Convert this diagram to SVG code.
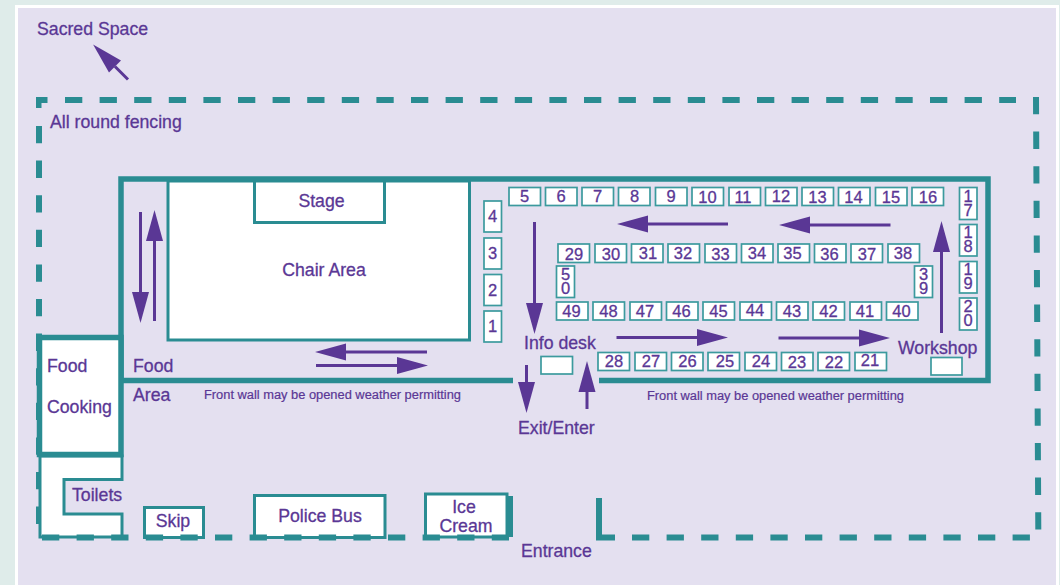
<svg xmlns="http://www.w3.org/2000/svg" width="1060" height="585" viewBox="0 0 1060 585">
<style>
text{font-family:"Liberation Sans",Arial,sans-serif;font-size:17.7px;fill:#5a3795;stroke:#5a3795;stroke-width:.3}
.m{text-anchor:middle}
.n{font-size:16.500px;text-anchor:middle}
.v{font-size:16.500px;writing-mode:vertical-rl;text-orientation:upright;letter-spacing:-4px}
.s{font-size:12.850px;stroke-width:.2}
.st{fill:#fff;stroke:#3c9a9e;stroke-width:1.7}
.b{fill:#fff;stroke:#2a8c92;stroke-width:3}
.w{fill:none;stroke:#2a8c92;stroke-width:5.5}
.d{fill:none;stroke:#2a8c92;stroke-width:6;stroke-dasharray:17.3 17.3}
.a{fill:none;stroke:#5a3795;stroke-width:3;marker-end:url(#h)}
</style>
<defs>
<marker id="h" markerUnits="userSpaceOnUse" markerWidth="32" markerHeight="18" refX="0" refY="8.5" orient="auto" viewBox="0 0 32 18" overflow="visible"><path d="M0 0L31 8.5L0 17Z" fill="#5a3795"/></marker>
</defs>
<rect width="1060" height="585" fill="#dfecea"/>
<rect x="15" y="5" width="1044" height="580" fill="#fff"/>
<rect x="18" y="8" width="1038" height="577" fill="#e4e0f0"/>

<g id="fence">
<path class="d" d="M65 100H1016"/>
<path class="d" d="M1036 97L1038.300 530"/>
<path class="d" d="M39 126V524"/>
<path fill="#2a8c92" d="M36 97H47.500V103H41.500V108H36Z"/>
</g>

<g id="hall">
<path class="w" d="M513 380.500H121V179H988V380.500H599"/>
</g>

<g id="chair-area"><rect class="b" x="168" y="181" width="301.500" height="159"/>
<text class="m" x="324" y="275.500">Chair Area</text></g>
<g id="stage"><rect class="b" x="254.500" y="181" width="130" height="41.500"/>
<text class="m" x="321.500" y="206.500">Stage</text></g>

<g id="toilets">
<path fill="#fff" stroke="#2a8c92" stroke-width="3" d="M40 456H122V479.500H64V514H122V537H40Z"/>
<text x="72" y="501">Toilets</text></g>
<g id="food-cooking">
<rect x="39.500" y="337.500" width="81.500" height="117" fill="#fff" stroke="#2a8c92" stroke-width="5.500"/>
<text x="47" y="372">Food</text><text x="47" y="413">Cooking</text></g>
<g id="skip"><rect class="b" x="144.500" y="507.500" width="59" height="30"/>
<text class="m" x="173" y="526.500">Skip</text></g>
<g id="police-bus"><rect class="b" x="254.500" y="495.500" width="130.500" height="42"/>
<text class="m" x="320" y="521.500">Police Bus</text></g>
<g id="ice-cream"><rect class="b" x="425.500" y="494" width="81.500" height="43"/>
<rect x="507" y="496" width="6" height="41" fill="#2a8c92"/>
<text class="m" x="464" y="513">Ice</text><text class="m" x="466" y="532">Cream</text></g>

<g id="fence-bottom">
<path class="d" d="M42 537.500H509"/>
<path class="d" d="M632 537.500H1030"/>
<path fill="none" stroke="#2a8c92" stroke-width="6" d="M599 498V537.500H615"/>
</g>

<g id="labels">
<text x="37" y="35">Sacred Space</text>
<text x="50" y="128">All round fencing</text>
<text x="133" y="372">Food</text>
<text x="133" y="401">Area</text>
<text class="s" x="204" y="399">Front wall may be opened weather permitting</text>
<text class="s" x="647" y="400">Front wall may be opened weather permitting</text>
<text x="524" y="349">Info desk</text>
<text x="898" y="354">Workshop</text>
<text x="518" y="434">Exit/Enter</text>
<text x="521" y="556.500">Entrance</text>
</g>

<g id="desks">
<rect class="st" x="541" y="356.500" width="31.500" height="17.500"/>
<rect class="st" x="931" y="357.500" width="31" height="17.500"/>
</g>

<g id="stalls">
<g id="s1"><rect class="st" x="484" y="311" width="17.500" height="31"/><text class="n" x="492.500" y="332">1</text></g>
<g id="s2"><rect class="st" x="484" y="274.500" width="17.500" height="31"/><text class="n" x="492.500" y="295.500">2</text></g>
<g id="s3"><rect class="st" x="484" y="238" width="17.500" height="31"/><text class="n" x="492.500" y="258.500">3</text></g>
<g id="s4"><rect class="st" x="484" y="201" width="17.500" height="31"/><text class="n" x="492.500" y="222">4</text></g>
<g id="s5"><rect class="st" x="509" y="187.500" width="31.500" height="18"/><text class="n" x="524.500" y="202">5</text></g>
<g id="s6"><rect class="st" x="545.500" y="187.500" width="31.500" height="18"/><text class="n" x="561" y="202">6</text></g>
<g id="s7"><rect class="st" x="582" y="187.500" width="31.500" height="18"/><text class="n" x="597.500" y="202">7</text></g>
<g id="s8"><rect class="st" x="618.500" y="187.500" width="31.500" height="18"/><text class="n" x="634.500" y="202">8</text></g>
<g id="s9"><rect class="st" x="655.500" y="187.500" width="31.500" height="18"/><text class="n" x="671" y="202">9</text></g>
<g id="s10"><rect class="st" x="692" y="187.500" width="31.500" height="18"/><text class="n" x="707.500" y="203">10</text></g>
<g id="s11"><rect class="st" x="729" y="187.500" width="31.500" height="18"/><text class="n" x="743" y="203">11</text></g>
<g id="s12"><rect class="st" x="765.500" y="187.500" width="31.500" height="18"/><text class="n" x="781" y="202">12</text></g>
<g id="s13"><rect class="st" x="802" y="187.500" width="31.500" height="18"/><text class="n" x="817.500" y="203">13</text></g>
<g id="s14"><rect class="st" x="838.500" y="187.500" width="31.500" height="18"/><text class="n" x="853.500" y="203">14</text></g>
<g id="s15"><rect class="st" x="875.500" y="187.500" width="31.500" height="18"/><text class="n" x="891" y="203">15</text></g>
<g id="s16"><rect class="st" x="912" y="187.500" width="31.500" height="18"/><text class="n" x="928" y="203">16</text></g>
<g id="s17"><rect class="st" x="959.500" y="187.500" width="17.500" height="32"/><text class="v" x="968" y="186.500">17</text></g>
<g id="s18"><rect class="st" x="959.500" y="224.500" width="17.500" height="31.500"/><text class="v" x="968" y="223">18</text></g>
<g id="s19"><rect class="st" x="959.500" y="261.500" width="17.500" height="31.500"/><text class="v" x="968" y="259.500">19</text></g>
<g id="s20"><rect class="st" x="959.500" y="298" width="17.500" height="32"/><text class="v" x="968" y="296.500">20</text></g>
<g id="s21"><rect class="st" x="855" y="352.500" width="31.500" height="18"/><text class="n" x="870" y="366">21</text></g>
<g id="s22"><rect class="st" x="818" y="352.500" width="31.500" height="18"/><text class="n" x="834" y="367.500">22</text></g>
<g id="s23"><rect class="st" x="781.500" y="352.500" width="31.500" height="18"/><text class="n" x="797" y="367.500">23</text></g>
<g id="s24"><rect class="st" x="745" y="352.500" width="31.500" height="18"/><text class="n" x="761" y="366.500">24</text></g>
<g id="s25"><rect class="st" x="708" y="352.500" width="31.500" height="18"/><text class="n" x="725" y="366.500">25</text></g>
<g id="s26"><rect class="st" x="671.500" y="352.500" width="31.500" height="18"/><text class="n" x="687.500" y="367">26</text></g>
<g id="s27"><rect class="st" x="635" y="352.500" width="31.500" height="18"/><text class="n" x="651" y="367">27</text></g>
<g id="s28"><rect class="st" x="598" y="352.500" width="31.500" height="18"/><text class="n" x="614" y="367">28</text></g>
<g id="s29"><rect class="st" x="558" y="244" width="31.500" height="18.500"/><text class="n" x="574" y="260">29</text></g>
<g id="s30"><rect class="st" x="595" y="244" width="31.500" height="18.500"/><text class="n" x="611" y="260">30</text></g>
<g id="s31"><rect class="st" x="631.500" y="244" width="31.500" height="18.500"/><text class="n" x="648" y="259">31</text></g>
<g id="s32"><rect class="st" x="668" y="244" width="31.500" height="18.500"/><text class="n" x="683" y="259">32</text></g>
<g id="s33"><rect class="st" x="705" y="244" width="31.500" height="18.500"/><text class="n" x="720.500" y="260">33</text></g>
<g id="s34"><rect class="st" x="741.500" y="244" width="31.500" height="18.500"/><text class="n" x="757" y="259">34</text></g>
<g id="s35"><rect class="st" x="778" y="244" width="31.500" height="18.500"/><text class="n" x="792.500" y="259">35</text></g>
<g id="s36"><rect class="st" x="814.500" y="244" width="31.500" height="18.500"/><text class="n" x="829.500" y="260">36</text></g>
<g id="s37"><rect class="st" x="851" y="244" width="31.500" height="18.500"/><text class="n" x="867" y="260">37</text></g>
<g id="s38"><rect class="st" x="888" y="244" width="31.500" height="18.500"/><text class="n" x="903" y="259">38</text></g>
<g id="s39"><rect class="st" x="914.500" y="266" width="18" height="31.500"/><text class="v" x="923.500" y="264.500">39</text></g>
<g id="s40"><rect class="st" x="886.500" y="302" width="31.500" height="18"/><text class="n" x="901.500" y="317">40</text></g>
<g id="s41"><rect class="st" x="850" y="302" width="31.500" height="18"/><text class="n" x="865" y="317">41</text></g>
<g id="s42"><rect class="st" x="813" y="302" width="31.500" height="18"/><text class="n" x="828.500" y="317">42</text></g>
<g id="s43"><rect class="st" x="776.500" y="302" width="31.500" height="18"/><text class="n" x="792" y="317">43</text></g>
<g id="s44"><rect class="st" x="740" y="302" width="31.500" height="18"/><text class="n" x="755" y="316">44</text></g>
<g id="s45"><rect class="st" x="703" y="302" width="31.500" height="18"/><text class="n" x="718.500" y="317">45</text></g>
<g id="s46"><rect class="st" x="666.500" y="302" width="31.500" height="18"/><text class="n" x="681.500" y="316.500">46</text></g>
<g id="s47"><rect class="st" x="630" y="302" width="31.500" height="18"/><text class="n" x="645" y="316.500">47</text></g>
<g id="s48"><rect class="st" x="593" y="302" width="31.500" height="18"/><text class="n" x="608.500" y="317">48</text></g>
<g id="s49"><rect class="st" x="556.500" y="302" width="31.500" height="18"/><text class="n" x="571.500" y="317">49</text></g>
<g id="s50"><rect class="st" x="556.500" y="266" width="18" height="31.500"/><text class="v" x="565.500" y="265">50</text></g>
</g>

<g id="connectors">
<path class="a" d="M128 79.500L115 66.500"/>
<path class="a" d="M140.500 212V292"/>
<path class="a" d="M154.500 321V241"/>
<path class="a" d="M427 352H346"/>
<path class="a" d="M316 365.500H397"/>
<path class="a" d="M534.500 222V303"/>
<path class="a" d="M728 224H648"/>
<path class="a" d="M890.500 225H810"/>
<path class="a" d="M941.500 333V252"/>
<path class="a" d="M616.500 337.500H697"/>
<path class="a" d="M778.500 338H859"/>
<path class="a" d="M526.500 365V382"/>
<path class="a" d="M587 409V392"/>
</g>
</svg>
